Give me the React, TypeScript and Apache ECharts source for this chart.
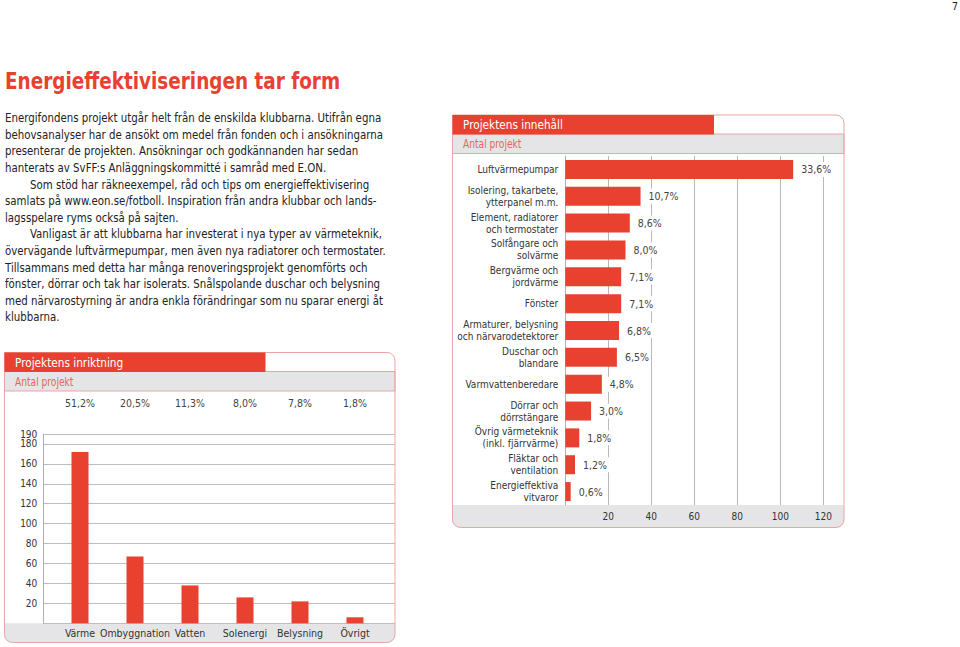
import React, { useEffect, useRef } from "react";
import * as echarts from "echarts";

const FONT = "'DejaVu Sans Condensed', 'Liberation Sans Narrow', 'Noto Sans', sans-serif";
const RED = "#e8412f";
const PINK = "#e9a5a5";
const BAND = "#e5e5e7";
const TXT = "#333333";

// Page texts
const pageNumber = "7";
const titleText = "Energieffektiviseringen tar form";
const bodyLines = [
  "Energifondens projekt utgår helt från de enskilda klubbarna. Utifrån egna",
  "behovsanalyser har de ansökt om medel från fonden och i ansökningarna",
  "presenterar de projekten. Ansökningar och godkännanden har sedan",
  "hanterats av SvFF:s Anläggningskommitté i samråd med E.ON.",
  "Som stöd har räkneexempel, råd och tips om energieffektivisering",
  "samlats på www.eon.se/fotboll. Inspiration från andra klubbar och lands-",
  "lagsspelare ryms också på sajten.",
  "Vanligast är att klubbarna har investerat i nya typer av värmeteknik,",
  "övervägande luftvärmepumpar, men även nya radiatorer och termostater.",
  "Tillsammans med detta har många renoveringsprojekt genomförts och",
  "fönster, dörrar och tak har isolerats. Snålspolande duschar och belysning",
  "med närvarostyrning är andra enkla förändringar som nu sparar energi åt",
  "klubbarna.",
];
const indentedLines = [4, 7];

// Chart 1: Projektens inriktning
const directionTitle = "Projektens inriktning";
const directionSubtitle = "Antal projekt";
const directionCategories = ["Värme", "Ombyggnation", "Vatten", "Solenergi", "Belysning", "Övrigt"];
const directionValues = [172, 67, 38, 26, 22, 6];
const directionShares = ["51,2%", "20,5%", "11,3%", "8,0%", "7,8%", "1,8%"];
const directionAxisMax = 190;
const directionAxisStep = 20;

// Chart 2: Projektens innehåll
const contentTitle = "Projektens innehåll";
const contentSubtitle = "Antal projekt";
const contentCategories = [
  "Luftvärmepumpar",
  "Isolering, takarbete,\nytterpanel m.m.",
  "Element, radiatorer\noch termostater",
  "Solfångare och\nsolvärme",
  "Bergvärme och\njordvärme",
  "Fönster",
  "Armaturer, belysning\noch närvarodetektorer",
  "Duschar och\nblandare",
  "Varmvattenberedare",
  "Dörrar och\ndörrstängare",
  "Övrig värmeteknik\n(inkl. fjärrvärme)",
  "Fläktar och\nventilation",
  "Energieffektiva\nvitvaror",
];
const contentValues = [106, 35, 30, 28, 26, 26, 25, 24, 17, 12, 6.5, 4.5, 2.5];
const contentShares = ["33,6%", "10,7%", "8,6%", "8,0%", "7,1%", "7,1%", "6,8%", "6,5%", "4,8%", "3,0%", "1,8%", "1,2%", "0,6%"];
const contentAxisMax = 120;
const contentAxisStep = 20;

function panel(x: number, y: number, w: number, h: number, headW: number, bottomTop: number, title: string, sub: string) {
  return [
    { type: "rect", z: -5, shape: { x, y: y + 19, width: w, height: 19.5 }, style: { fill: BAND, stroke: PINK, lineWidth: 1 } },
    { type: "rect", z: -5, shape: { x, y: bottomTop, width: w, height: y + h - bottomTop, r: [0, 0, 8, 8] }, style: { fill: BAND } },
    { type: "rect", z: 20, shape: { x, y, width: w, height: h, r: [0, 8, 8, 8] }, style: { fill: "none", stroke: PINK, lineWidth: 1 } },
    { type: "rect", z: 21, shape: { x, y, width: headW, height: 19.5 }, style: { fill: RED } },
    { type: "text", z: 22, x: x + 10.5, y: y + 10, scaleX: 0.9, style: { text: title, fill: "#ffffff", fontSize: 13, fontFamily: FONT, verticalAlign: "middle" } },
    { type: "text", z: 22, x: x + 10.5, y: y + 29.5, scaleX: 0.88, style: { text: sub, fill: "#e0685a", fontSize: 11.5, fontFamily: FONT, verticalAlign: "middle" } },
  ];
}

const axisLabelBase = { fontSize: 10, color: TXT, fontFamily: FONT };

export default function App() {
  const ref = useRef<HTMLDivElement>(null);
  useEffect(() => {
    if (!ref.current) return;
    const chart = echarts.init(ref.current, undefined, { renderer: "svg" });
    const textEls: any[] = [];
    textEls.push({ type: "text", x: 958, y: 0, style: { text: pageNumber, fill: "#222", fontSize: 10.5, fontFamily: FONT, align: "right", verticalAlign: "top" } });
    textEls.push({ type: "text", x: 5, y: 81, scaleX: 0.89, style: { text: titleText, fill: RED, fontSize: 23, fontWeight: "bold", fontFamily: FONT, verticalAlign: "middle" } });
    bodyLines.forEach((t, i) => {
      textEls.push({
        type: "text",
        x: indentedLines.includes(i) ? 30 : 5,
        y: 118 + i * 16.6,
        scaleX: 0.91,
        style: { text: t, fill: "#222", fontSize: 12.5, fontFamily: FONT, verticalAlign: "middle" },
      });
    });
    const option: any = {
      animation: false,
      textStyle: { fontFamily: FONT },
      grid: [
        { left: 43.3, top: 434, width: 351.7, height: 189.3 },
        { left: 52.5, top: 434, width: 330, height: 189.3 },
        { left: 565.3, top: 156, width: 258, height: 349 },
      ],
      xAxis: [
        { gridIndex: 0, type: "value", show: false, min: 0, max: 1 },
        {
          gridIndex: 1, type: "category", data: directionCategories, position: "bottom",
          axisLine: { show: false }, axisTick: { show: false },
          axisLabel: { ...axisLabelBase, fontSize: 10.5, margin: 4, interval: 0 },
        },
        {
          gridIndex: 1, type: "category", data: directionShares, position: "top",
          axisLine: { show: false }, axisTick: { show: false },
          axisLabel: { ...axisLabelBase, fontSize: 10.5, color: "#444", margin: 26, interval: 0 },
        },
        {
          gridIndex: 2, type: "value", min: 0, max: contentAxisMax, interval: contentAxisStep,
          axisLine: { show: false }, axisTick: { show: false },
          axisLabel: { ...axisLabelBase, margin: 6, showMinLabel: false },
          splitLine: { lineStyle: { color: "#b8b8b8", width: 1 } },
        },
      ],
      yAxis: [
        {
          gridIndex: 0, type: "value", min: 0, max: directionAxisMax, interval: directionAxisStep,
          axisLine: { show: true, lineStyle: { color: "#b0b0b0" } }, axisTick: { show: false },
          axisLabel: { ...axisLabelBase, margin: 6, lineHeight: 8, showMinLabel: false, showMaxLabel: true },
          splitLine: { lineStyle: { color: "#bdbdbd", width: 1 } },
        },
        { gridIndex: 1, type: "value", min: 0, max: directionAxisMax, show: false },
        {
          gridIndex: 2, type: "category", inverse: true, data: contentCategories,
          axisLine: { show: true, lineStyle: { color: "#b0b0b0" } }, axisTick: { show: false },
          axisLabel: { ...axisLabelBase, margin: 7, lineHeight: 12, align: "right", interval: 0 },
        },
      ],
      series: [
        {
          type: "bar", xAxisIndex: 1, yAxisIndex: 1, data: directionValues, barWidth: 17,
          itemStyle: { color: RED },
        },
        {
          type: "bar", xAxisIndex: 3, yAxisIndex: 2, data: contentValues, barWidth: 19,
          itemStyle: { color: RED },
          label: {
            show: true, position: "right", distance: 6,
            formatter: (p: any) => contentShares[p.dataIndex],
            fontSize: 10.5, color: "#444", fontFamily: FONT,
            backgroundColor: "#ffffff", padding: [2, 2],
          },
        },
      ],
      graphic: {
        elements: [
          ...textEls,
          ...panel(4.5, 352.5, 390.5, 290, 261, 623.3, directionTitle, directionSubtitle),
          ...panel(452.5, 115, 391.5, 412.5, 261.5, 505, contentTitle, contentSubtitle),
        ],
      },
    };
    chart.setOption(option);
    return () => chart.dispose();
  }, []);
  return <div ref={ref} style={{ position: "absolute", left: 0, top: 0, width: 960, height: 647, background: "#fff" }} />;
}
